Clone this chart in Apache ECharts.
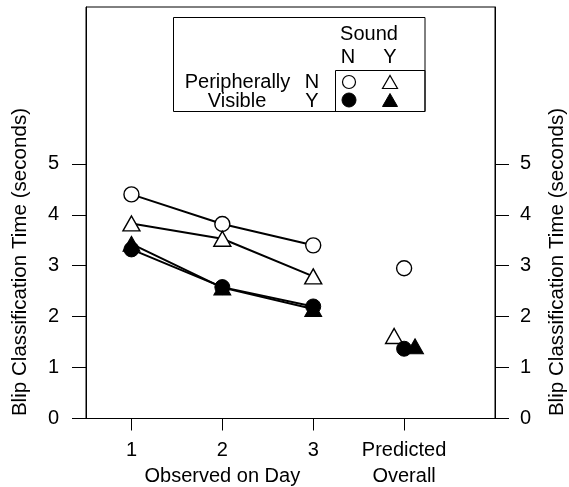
<!DOCTYPE html>
<html>
<head>
<meta charset="utf-8">
<script src="https://cdn.jsdelivr.net/npm/echarts@6/dist/echarts.min.js"></script>
<style>html,body{margin:0;padding:0;background:#fff;}#c{width:569px;height:487px;}</style>
</head>
<body>
<div id="c"></div>
<script>
// ---- data ----
const days = [1, 2, 3];
const openCircle = [4.40, 3.82, 3.40];     // Peripherally visible N, Sound N
const openTriangle = [3.83, 3.53, 2.79];   // Peripherally visible N, Sound Y
const blackCircle = [3.32, 2.58, 2.20];    // Peripherally visible Y, Sound N
const blackTriangle = [3.43, 2.57, 2.15];  // Peripherally visible Y, Sound Y
// predicted overall: [x position (jittered around 4), value]
const predOpenCircle = [[4.00, 2.95]];
const predOpenTriangle = [[3.89, 1.62]];
const predBlackCircle = [[4.00, 1.37]];
const predBlackTriangle = [[4.12, 1.42]];
const xTicks = [1, 2, 3, 4];
const xTickLabels = {1: '1', 2: '2\nObserved on Day', 3: '3', 4: 'Predicted\nOverall'};
const yTicks = [0, 1, 2, 3, 4, 5];
const yTitle = 'Blip Classification Time (seconds)';

const FONT = 'Liberation Sans';
const FS = 20;
const FS_TITLE = 20.6;
const pair = (xs, ys) => xs.map((x, i) => [x, ys[i]]);

const chart = echarts.init(document.getElementById('c'), null, {renderer: 'canvas'});

function yAxisDef(pos) {
  return {
    type: 'value', position: pos, min: 0, max: 8.08, interval: 1,
    axisLine: {show: true, onZero: false, lineStyle: {color: '#000', width: 1}},
    axisTick: {show: true, inside: false, length: 14, customValues: yTicks, lineStyle: {color: '#000'}},
    axisLabel: {show: true, customValues: yTicks, margin: pos === 'left' ? 27 : 25,
      color: '#000', fontFamily: FONT, fontSize: FS},
    splitLine: {show: false}
  };
}

const openStyle = {color: '#fff', borderColor: '#000', borderWidth: 1.4, opacity: 1};
const fillStyle = {color: '#000', borderColor: '#000', borderWidth: 1, opacity: 1};
const lineStyle = {color: '#000', width: 2};

function lineSeries(data, symbol, size, style) {
  return {type: 'line', data: data, symbol: symbol, symbolSize: size, showSymbol: true,
    lineStyle: lineStyle, itemStyle: style, animation: false, z: 2};
}
function scatterSeries(data, symbol, size, style) {
  return {type: 'scatter', data: data, symbol: symbol, symbolSize: size, itemStyle: style, animation: false, z: 3};
}

const CIRC = 15, TRI = [17, 15];

const gText = (x, y, text, extra, fs) => Object.assign({
  type: 'text', x: x, y: y,
  style: {text: text, fontFamily: FONT, fontSize: fs || FS, fill: '#000', align: 'center', verticalAlign: 'middle'}
}, extra || {});

const triPts = (cx, cy, w, h) => [[cx - w / 2, cy + h / 2], [cx + w / 2, cy + h / 2], [cx, cy - h / 2]];

chart.setOption({
  animation: false,
  backgroundColor: '#fff',
  grid: {left: 86, right: 74, top: 7, bottom: 68.5, outerBoundsMode: 'none', containLabel: false,
    show: true, borderColor: '#000', borderWidth: 1, backgroundColor: 'transparent'},
  xAxis: {
    type: 'value', min: 0.5, max: 5,
    axisLine: {show: true, onZero: false, lineStyle: {color: '#000', width: 1}},
    axisTick: {show: true, length: 12, customValues: xTicks, lineStyle: {color: '#000'}},
    axisLabel: {show: true, customValues: xTicks, margin: 19, color: '#000', fontFamily: FONT, fontSize: FS,
      lineHeight: 26, formatter: v => xTickLabels[v] || ''},
    splitLine: {show: false}
  },
  yAxis: [yAxisDef('left'), yAxisDef('right')],
  series: [
    lineSeries(pair(days, openCircle), 'circle', CIRC, openStyle),
    lineSeries(pair(days, openTriangle), 'triangle', TRI, openStyle),
    lineSeries(pair(days, blackTriangle), 'triangle', TRI, fillStyle),
    lineSeries(pair(days, blackCircle), 'circle', CIRC, fillStyle),
    scatterSeries(predOpenCircle, 'circle', CIRC, openStyle),
    scatterSeries(predOpenTriangle, 'triangle', TRI, openStyle),
    scatterSeries(predBlackCircle, 'circle', CIRC, fillStyle),
    scatterSeries(predBlackTriangle, 'triangle', TRI, fillStyle)
  ],
  graphic: [
    gText(20, 262, yTitle, {rotation: Math.PI / 2}, FS_TITLE),
    gText(557, 262, yTitle, {rotation: Math.PI / 2}, FS_TITLE),
    {type: 'rect', shape: {x: 173.5, y: 17.5, width: 251.5, height: 94}, style: {fill: '#fff', stroke: '#000', lineWidth: 1}, z: 10},
    {type: 'rect', shape: {x: 335.5, y: 70.5, width: 89.5, height: 41}, style: {fill: 'none', stroke: '#000', lineWidth: 1}, z: 11},
    gText(369, 34, 'Sound', {z: 11}),
    gText(348, 57, 'N', {z: 11}),
    gText(390, 57, 'Y', {z: 11}),
    gText(237.5, 82, 'Peripherally', {z: 11}),
    gText(237, 101, 'Visible', {z: 11}),
    gText(312, 82, 'N', {z: 11}),
    gText(312, 101, 'Y', {z: 11}),
    {type: 'circle', shape: {cx: 349, cy: 82, r: 6.5}, style: {fill: '#fff', stroke: '#000', lineWidth: 1.2}, z: 11},
    {type: 'polygon', shape: {points: triPts(390, 82, 15, 13)}, style: {fill: '#fff', stroke: '#000', lineWidth: 1.2}, z: 11},
    {type: 'circle', shape: {cx: 349, cy: 100, r: 7}, style: {fill: '#000', stroke: '#000', lineWidth: 1}, z: 11},
    {type: 'polygon', shape: {points: triPts(390, 100, 15, 13)}, style: {fill: '#000', stroke: '#000', lineWidth: 1}, z: 11}
  ]
});
</script>
</body>
</html>
